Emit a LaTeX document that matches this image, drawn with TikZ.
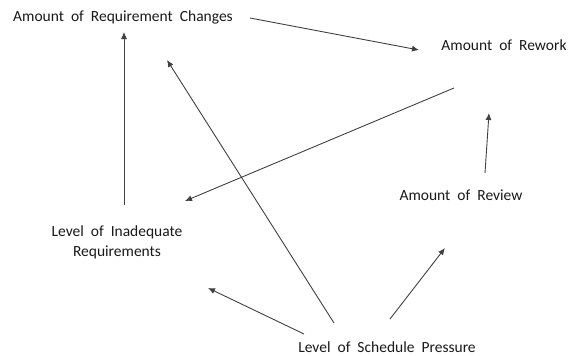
\documentclass[tikz,border=0pt]{standalone}
\usepackage{fontspec}
\setmainfont[WordSpace=2]{Carlito}
\usetikzlibrary{arrows.meta}
\begin{document}
\begin{tikzpicture}[x=1pt,y=-1pt,
  lbl/.style={inner sep=0pt, font=\fontsize{15.5}{19.5}\selectfont, text=black!90, align=center},
  arr/.style={-{Latex[length=7pt,width=6pt]}, line width=0.9pt, draw=black!75}]
\useasboundingbox (0,0) rectangle (574,356);
\node[lbl] (rc) at (123,17) {Amount of Requirement Changes};
\node[lbl] (rw) at (504,45) {Amount of Rework};
\node[lbl] (rv) at (461,195) {Amount of Review};
\node[lbl] (ir) at (117,242.5) {Level of Inadequate\\Requirements};
\node[lbl] (sp) at (387,347) {Level of Schedule Pressure};
% endpoints
\coordinate (ir1) at (124,205); \coordinate (rc1) at (124,32);
\coordinate (rc2) at (250,18); \coordinate (rw1) at (419,50);
\coordinate (rw2) at (454,88); \coordinate (ir2) at (185,201);
\coordinate (rv1) at (485,173); \coordinate (rw3) at (489,113);
\coordinate (sp1) at (334,323); \coordinate (rc3) at (167,60);
\coordinate (sp2) at (304,334); \coordinate (ir3) at (208,288);
\coordinate (sp3) at (390,319); \coordinate (rv2) at (445,248);
\draw[arr] (ir1) -- (rc1);
\draw[arr] (rc2) -- (rw1);
\draw[arr] (rw2) -- (ir2);
\draw[arr] (rv1) -- (rw3);
\draw[arr] (sp1) -- (rc3);
\draw[arr] (sp2) -- (ir3);
\draw[arr] (sp3) -- (rv2);
\end{tikzpicture}
\end{document}
